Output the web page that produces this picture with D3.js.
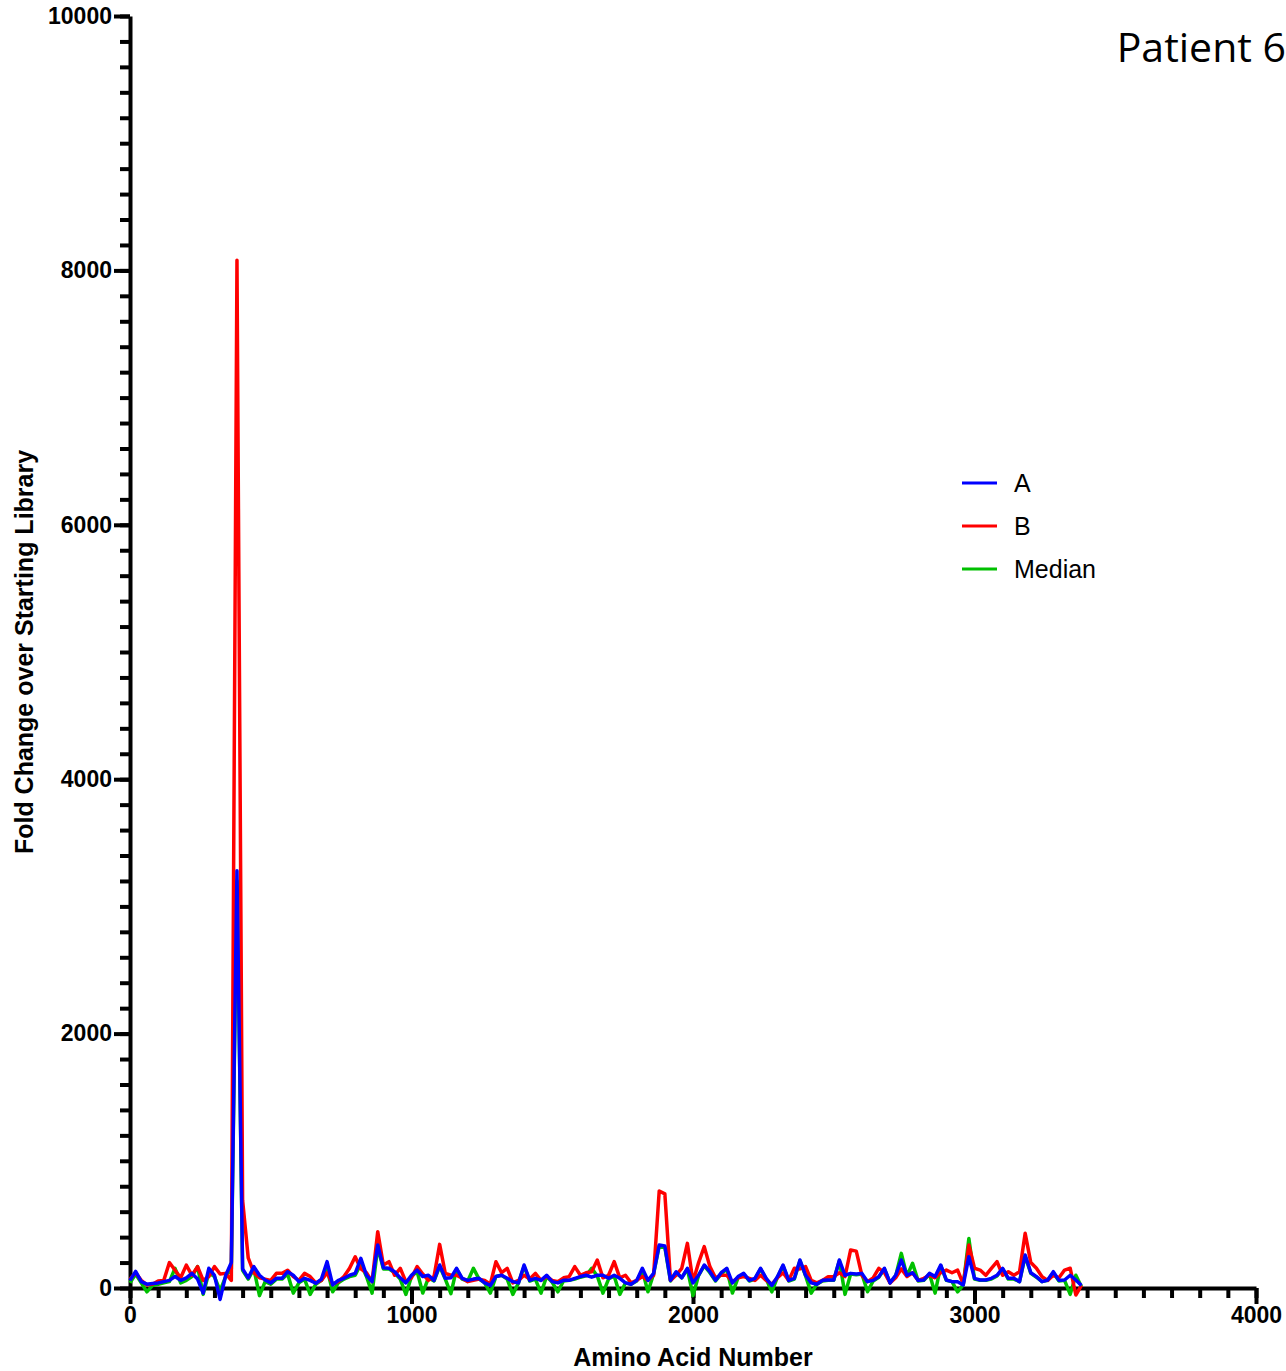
<!DOCTYPE html>
<html>
  <head>
    <script src="https://d3js.org/d3.v7.min.js"></script>
    <style type="text/css">
  body {
    margin: 0;
    background: #fff;
  }
  .axis text {
    font-family: "Liberation Sans", Arial, sans-serif;
    font-weight: bold;
    font-size: 23px;
    fill: #000;
  }
  .axis path, .axis line {
    stroke: #000;
  }
  .series {
    fill: none;
    stroke-width: 3.5;
    stroke-linejoin: round;
  }
    </style>
  </head>

  <body>
  <div id="container"></div>

  <script type="text/javascript">

  // amino acid positions, every 20 residues (0..3380)
  var aminoAcid = d3.range(0, 3381, 20);

  // replicate A
  var seriesA = [
    60,130,50,30,35, 40,50,60,90,60, 80,115,70,-40,155, 100,-90,100,200,3280,
    150,80,168,100,63, 40,76,76,128,100, 50,76,60,37,70, 207,24,60,76,100,
    115,233,100,50,338, 160,155,128,80,40, 100,141,90,100,60, 181,76,80,155,76,
    60,70,76,40,20, 90,100,76,50,40, 181,60,76,60,100, 50,40,60,60,76,
    90,100,85,100,100, 76,100,76,40,30, 60,155,60,115,338, 330,60,128,80,155,
    40,100,181,128,60, 120,155,40,90,115, 60,76,155,76,20, 89,181,60,76,220,
    100,40,30,60,63, 63,220,100,115,110, 115,50,60,89,155, 40,100,220,100,120,
    60,63,115,90,181, 63,50,50,24,246, 76,63,63,76,100, 155,76,76,50,259,
    120,89,50,63,128, 60,63,100,63,20
  ];

  // replicate B
  var seriesB = [
    70,120,60,25,30, 55,60,200,140,80, 180,100,168,60,90, 168,110,115,60,8080,
    690,236,120,80,70, 60,115,115,140,90, 60,115,90,40,60, 120,30,50,90,155,
    246,150,120,50,443, 180,207,100,155,50, 80,168,110,60,90, 343,115,100,100,76,
    50,60,70,60,30, 207,120,155,40,60, 100,70,115,60,90, 60,50,80,89,168,
    100,120,128,220,80, 100,207,80,100,40, 60,90,60,100,763, 740,60,100,155,351,
    50,200,325,168,80, 100,100,50,80,90, 76,60,100,60,30, 80,120,60,155,150,
    168,60,40,60,89, 89,120,90,299,290, 100,50,80,155,120, 40,80,150,90,120,
    60,76,100,80,120, 141,120,141,30,338, 155,141,100,155,207, 100,128,100,128,430,
    200,155,89,60,100, 80,141,155,-55,20
  ];

  // median
  var seriesMedian = [
    40,110,40,-30,20, 30,40,50,155,40, 60,90,168,-50,120, 90,-20,90,150,3200,
    140,70,150,-60,50, 30,70,70,110,-40, 40,70,-50,30,60, 150,-30,40,70,90,
    100,190,90,-40,320, 150,150,120,70,-50, 90,130,-40,80,55, 170,70,-45,150,70,
    55,155,70,40,-40, 90,100,70,-50,40, 170,55,70,-40,90, 45,-30,55,60,70,
    85,95,155,95,-40, 70,95,-50,40,30, 55,140,-30,110,330, 320,55,120,80,150,
    -60,100,175,120,55, 110,150,-40,80,110, 55,70,150,70,-30, 85,175,55,70,215,
    95,-40,30,55,60, 60,215,-50,110,105, 110,-30,55,85,150, 40,95,272,95,194,
    55,60,110,-40,175, 60,50,-30,24,390, 70,60,60,70,95, 150,70,70,50,250,
    115,85,50,60,120, 55,60,-50,100,10
  ];

  var legendLabels = ["A", "B", "Median"];
  var colors = {"A": "#0000ff", "B": "#ff0000", "Median": "#00c000"};
  var xTicks = [0, 1000, 2000, 3000, 4000];
  var yTicks = [0, 2000, 4000, 6000, 8000, 10000];

  var width = 1286,
    height = 1371;

  var svg = d3.select("#container")
    .append("svg")
    .attr("width", width)
    .attr("height", height);

  var x = d3.scaleLinear().domain([0, 4000]).range([130, 1256]);
  var y = d3.scaleLinear().domain([0, 10000]).range([1288, 16]);

  //minor ticks first, then the major ones with labels
  svg.append("g")
    .attr("class", "axis")
    .attr("transform", "translate(0," + y(0) + ")")
    .call(d3.axisBottom(x).tickValues(d3.range(0, 4001, 100)).tickSize(10).tickFormat(""))
    .call(function(g) { g.selectAll("line").attr("stroke-width", 4); g.select(".domain").remove(); });

  svg.append("g")
    .attr("class", "axis")
    .attr("transform", "translate(0," + y(0) + ")")
    .call(d3.axisBottom(x).tickValues(xTicks).tickSize(16).tickSizeOuter(0).tickPadding(3).tickFormat(d3.format("d")))
    .call(function(g) {
      g.selectAll("line").attr("stroke-width", 4);
      g.select(".domain").attr("stroke-width", 4);
    });

  svg.append("g")
    .attr("class", "axis")
    .attr("transform", "translate(" + x(0) + ",0)")
    .call(d3.axisLeft(y).tickValues(d3.range(0, 10001, 200)).tickSize(10).tickFormat(""))
    .call(function(g) { g.selectAll("line").attr("stroke-width", 4); g.select(".domain").remove(); });

  svg.append("g")
    .attr("class", "axis")
    .attr("transform", "translate(" + x(0) + ",0)")
    .call(d3.axisLeft(y).tickValues(yTicks).tickSize(16).tickSizeOuter(0).tickPadding(2).tickFormat(d3.format("d")))
    .call(function(g) {
      g.selectAll("line").attr("stroke-width", 4);
      g.select(".domain").attr("stroke-width", 4);
    });

  // axis titles
  svg.append("text")
    .attr("x", 693)
    .attr("y", 1366)
    .attr("text-anchor", "middle")
    .style("font-family", "Liberation Sans, Arial, sans-serif")
    .style("font-weight", "bold")
    .style("font-size", "25px")
    .text("Amino Acid Number");

  svg.append("text")
    .attr("transform", "translate(33,652) rotate(-90)")
    .attr("text-anchor", "middle")
    .style("font-family", "Liberation Sans, Arial, sans-serif")
    .style("font-weight", "bold")
    .style("font-size", "25px")
    .text("Fold Change over Starting Library");

  svg.append("text")
    .attr("x", 1286)
    .attr("y", 62)
    .attr("text-anchor", "end")
    .style("font-family", "Open Sans, sans-serif")
    .style("font-size", "41px")
    .text("Patient 6");

  // data lines, median at the bottom, A on top
  var line = d3.line()
    .x(function(d, i) { return x(aminoAcid[i]); })
    .y(function(d) { return y(d); });

  var drawOrder = [["Median", seriesMedian], ["B", seriesB], ["A", seriesA]];

  svg.selectAll("path.series")
    .data(drawOrder)
    .enter().append("path")
      .attr("class", "series")
      .attr("stroke", function(d) { return colors[d[0]]; })
      .attr("d", function(d) { return line(d[1]); });

  // legend
  var legend = svg.selectAll("g.legend")
    .data(legendLabels)
    .enter().append("g")
      .attr("class", "legend")
      .attr("transform", function(d, i) { return "translate(962," + (483 + i * 43) + ")"; });

  legend.append("line")
    .attr("x1", 0)
    .attr("x2", 35)
    .attr("stroke", function(d) { return colors[d]; })
    .attr("stroke-width", 3);

  legend.append("text")
    .attr("x", 52)
    .attr("dy", "0.36em")
    .style("font-family", "Liberation Sans, Arial, sans-serif")
    .style("font-size", "25px")
    .text(function(d) { return d; });

  </script>
  </body>
</html>
